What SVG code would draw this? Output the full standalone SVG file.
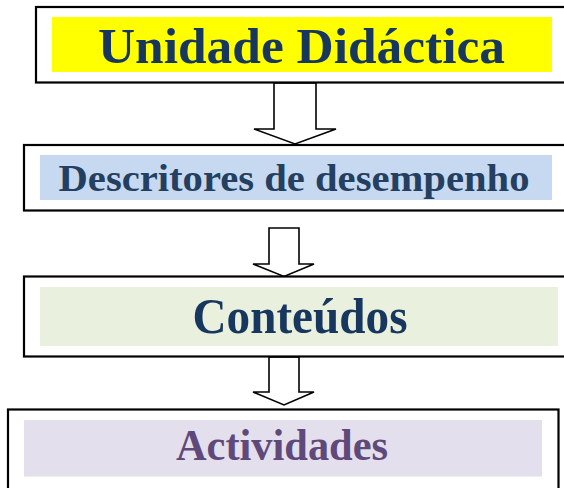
<svg xmlns="http://www.w3.org/2000/svg" width="564" height="488" viewBox="0 0 564 488">
<style>
.box{fill:#fff;stroke:#000;stroke-width:2.2}
.lbl{font-family:"Liberation Serif","Times New Roman",serif;font-weight:bold;text-anchor:middle}
.arrow{fill:#fff;stroke:#000;stroke-width:1.6;stroke-linejoin:miter}
</style>
<rect width="564" height="488" fill="#fff"/>
<g id="connectors">
<polygon class="arrow" points="274,83 316,83 316,129 336,129 295,144 254,129 274,129"/>
<polygon class="arrow" points="269,228 299,228 299,264 314,264 284,276.5 253,264 269,264"/>
<polygon class="arrow" points="269,357 299,357 299,392 314,392 284,405 253,392 269,392"/>
</g>
<g id="unidade">
<rect class="box" x="36" y="7" width="540" height="75.5"/>
<rect x="52" y="17" width="500" height="55" fill="#ffff00"/>
<text class="lbl" x="301.5" y="63" font-size="50" fill="#17375e" textLength="407" lengthAdjust="spacingAndGlyphs">Unidade Didáctica</text>
</g>
<g id="descritores">
<rect class="box" x="24" y="145" width="552" height="65.5"/>
<rect x="40" y="155" width="512" height="45" fill="#c6d9f1"/>
<text class="lbl" x="294" y="191" font-size="38" fill="#243f60" textLength="471" lengthAdjust="spacingAndGlyphs">Descritores de desempenho</text>
</g>
<g id="conteudos">
<rect class="box" x="24" y="276.5" width="552" height="80"/>
<rect x="40" y="287" width="518" height="59" fill="#e9f0de"/>
<text class="lbl" x="300" y="333" font-size="50" fill="#17375e" textLength="215" lengthAdjust="spacingAndGlyphs">Conteúdos</text>
</g>
<g id="actividades">
<rect class="box" x="8" y="409.5" width="550.5" height="90"/>
<rect x="24" y="420" width="518" height="56.5" fill="#e4dfec"/>
<text class="lbl" x="282" y="460" font-size="44" fill="#5f497a" textLength="212" lengthAdjust="spacingAndGlyphs">Actividades</text>
</g>
</svg>
